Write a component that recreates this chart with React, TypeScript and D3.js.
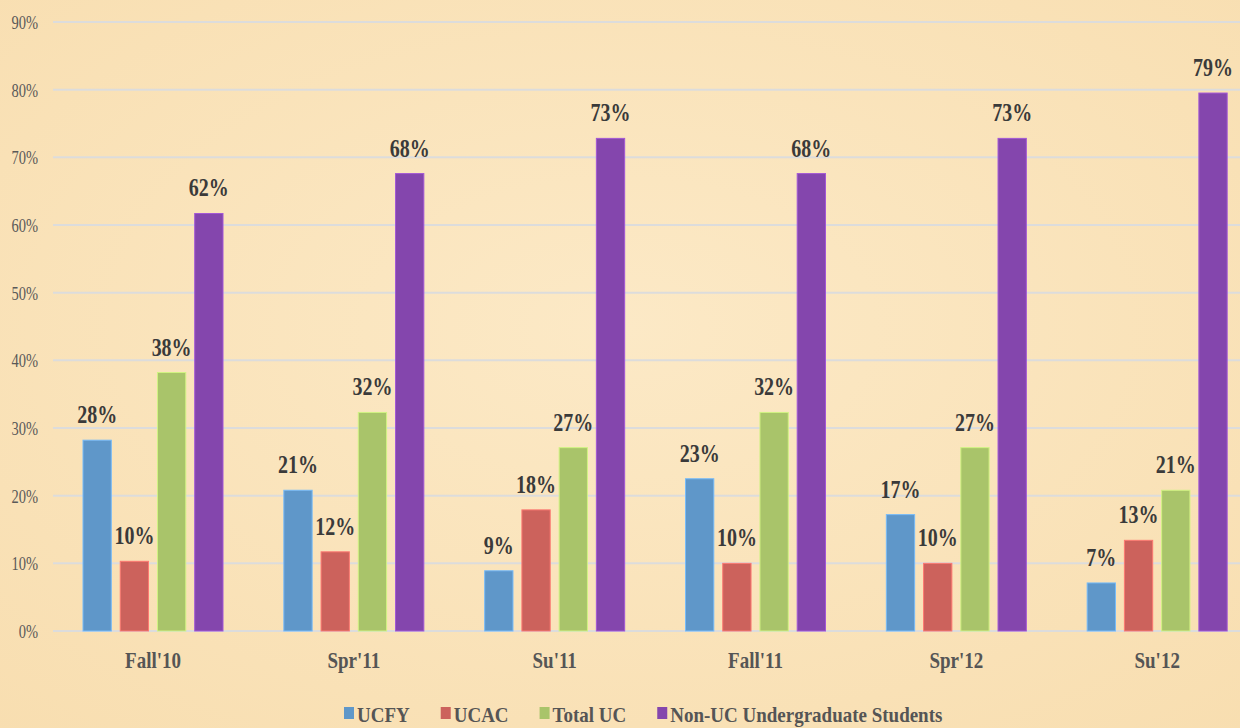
import React, { useEffect, useRef } from "react";
import * as d3 from "d3";

const categories = ["Fall'10", "Spr'11", "Su'11", "Fall'11", "Spr'12", "Su'12"];
const seriesNames = ["UCFY", "UCAC", "Total UC", "Non-UC Undergraduate Students"];
const ucfy = [28.2, 20.8, 8.9, 22.5, 17.2, 7.1];
const ucac = [10.3, 11.7, 17.9, 10.0, 10.0, 13.4];
const totalUC = [38.2, 32.3, 27.1, 32.3, 27.1, 20.8];
const nonUC = [61.7, 67.6, 72.8, 67.6, 72.8, 79.5];
const valueLabels = [
  ["28%", "21%", "9%", "23%", "17%", "7%"],
  ["10%", "12%", "18%", "10%", "10%", "13%"],
  ["38%", "32%", "27%", "32%", "27%", "21%"],
  ["62%", "68%", "73%", "68%", "73%", "79%"],
];
const yTicks = [0, 10, 20, 30, 40, 50, 60, 70, 80, 90];
const colors = ["#5f97c9", "#cc625c", "#a9c46a", "#8446ad"];

const W = 1240;
const H = 728;

export default function App() {
  const ref = useRef<SVGSVGElement | null>(null);

  useEffect(() => {
    document.body.style.margin = "0";
    const svg = d3.select(ref.current);
    svg.selectAll("*").remove();

    const defs = svg.append("defs");
    const grad = defs
      .append("radialGradient")
      .attr("id", "bg")
      .attr("cx", "50%")
      .attr("cy", "45%")
      .attr("r", "75%");
    grad.append("stop").attr("offset", "0%").attr("stop-color", "#fce9c6");
    grad.append("stop").attr("offset", "100%").attr("stop-color", "#f8deb0");
    svg.append("rect").attr("width", W).attr("height", H).attr("fill", "url(#bg)");

    const serif = "'Liberation Serif', 'Times New Roman', serif";
    const y = d3.scaleLinear().domain([0, 90]).range([631, 22]);
    const x0 = d3.scaleBand<string>().domain(categories).range([52.6, 1257.6]).paddingInner(0).paddingOuter(0);
    const x1 = d3
      .scaleBand<string>()
      .domain(seriesNames)
      .range([30.4, 170.4])
      .paddingInner(0.24)
      .paddingOuter(0);

    const stretched = (
      g: d3.Selection<any, any, any, any>,
      tx: number,
      ty: number,
      sy: number
    ) => g.append("text").attr("transform", `translate(${tx},${ty}) scale(1,${sy})`);

    // gridlines
    svg
      .append("g")
      .selectAll("line")
      .data(yTicks)
      .join("line")
      .attr("x1", 53)
      .attr("x2", W)
      .attr("y1", (d) => y(d))
      .attr("y2", (d) => y(d))
      .attr("stroke", "#dcdcdc")
      .attr("stroke-width", 2);

    // y tick labels
    const yg = svg.append("g");
    yTicks.forEach((t) => {
      stretched(yg, 38, y(t) + 7, 1.3)
        .attr("text-anchor", "end")
        .attr("font-family", serif)
        .attr("font-size", 14.5)
        .attr("fill", "#595959")
        .text(t + "%");
    });

    const series = [ucfy, ucac, totalUC, nonUC];
    series.forEach((vals, si) => {
      const g = svg.append("g");
      g.selectAll("rect")
        .data(vals)
        .join("rect")
        .attr("x", (_, i) => x0(categories[i])! + x1(seriesNames[si])!)
        .attr("y", (d) => y(d))
        .attr("width", x1.bandwidth())
        .attr("height", (d) => y(0) - y(d))
        .attr("fill", colors[si])
        .attr("stroke", d3.color(colors[si])!.brighter(0.6).toString())
        .attr("stroke-width", 1);
      vals.forEach((v, i) => {
        stretched(
          g,
          x0(categories[i])! + x1(seriesNames[si])! + x1.bandwidth() / 2,
          y(v) - 17,
          1.22
        )
          .attr("text-anchor", "middle")
          .attr("font-family", serif)
          .attr("font-weight", "bold")
          .attr("font-size", 20)
          .attr("fill", "#3a3a3a")
          .text(valueLabels[si][i]);
      });
    });

    // category labels
    const cg = svg.append("g");
    categories.forEach((c) => {
      stretched(cg, x0(c)! + x0.bandwidth() / 2, 668, 1.2)
        .attr("text-anchor", "middle")
        .attr("font-family", serif)
        .attr("font-weight", "bold")
        .attr("font-size", 19)
        .attr("fill", "#555555")
        .text(c);
    });

    // legend
    const lg = svg.append("g");
    let cx = 344;
    seriesNames.forEach((name, i) => {
      lg.append("rect")
        .attr("x", cx)
        .attr("y", 707)
        .attr("width", 10)
        .attr("height", 12)
        .attr("fill", colors[i]);
      const t = stretched(lg, cx + 13, 722, 1.12)
        .attr("font-family", serif)
        .attr("font-weight", "bold")
        .attr("font-size", 19)
        .attr("fill", "#555555")
        .text(name);
      const w = (t.node() as SVGTextElement).getComputedTextLength();
      cx = cx + 13 + w + 31;
    });
  }, []);

  return <svg ref={ref} width={W} height={H} style={{ display: "block" }} />;
}
